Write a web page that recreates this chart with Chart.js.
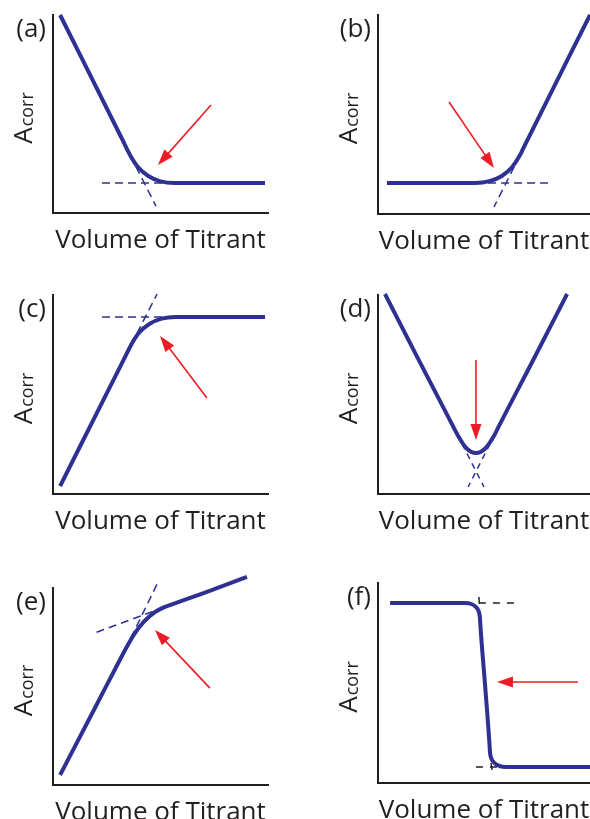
<!DOCTYPE html>
<html>
<head>
<meta charset="utf-8">
<script src="https://cdn.jsdelivr.net/npm/chart.js@4.4.0/dist/chart.umd.min.js"></script>
<style>
  body { margin: 0; background: #fff; }
  .panel { position: absolute; }
</style>
</head>
<body>
<canvas class="panel" id="chart-a" width="295" height="280" style="left:0;top:0"></canvas>
<canvas class="panel" id="chart-b" width="295" height="280" style="left:295px;top:0"></canvas>
<canvas class="panel" id="chart-c" width="295" height="280" style="left:0;top:280px"></canvas>
<canvas class="panel" id="chart-d" width="295" height="280" style="left:295px;top:280px"></canvas>
<canvas class="panel" id="chart-e" width="295" height="259" style="left:0;top:560px"></canvas>
<canvas class="panel" id="chart-f" width="295" height="259" style="left:295px;top:560px"></canvas>
<script>
// valeurs, axes 0..10 dans chaque panneau
const aCurve = [[0.33, 10.0], [3.12, 3.94], [3.44, 3.23], [3.58, 2.93], [3.96, 2.31], [4.43, 1.87], [5.00, 1.60], [5.67, 1.52], [5.91, 1.52], [9.86, 1.52]];
const aGuides = [[[2.28, 1.52], [5.67, 1.52]], [[3.58, 2.93], [4.79, 0.35]]];
const aArrow = [[7.35, 5.45], [4.88, 2.42]];

const bCurve = [[0.42, 1.56], [4.34, 1.56], [4.58, 1.56], [5.26, 1.65], [5.84, 1.91], [6.32, 2.35], [6.70, 2.96], [6.84, 3.27], [10.0, 10.0]];
const bGuides = [[[4.58, 1.56], [8.02, 1.56]], [[6.70, 2.96], [5.47, 0.35]]];
const bArrow = [[3.35, 5.63], [5.47, 2.31]];

const cCurve = [[0.33, 0.40], [2.65, 5.38], [3.49, 7.19], [3.63, 7.49], [4.00, 8.10], [4.48, 8.54], [5.05, 8.81], [5.72, 8.89], [5.95, 8.89], [9.86, 8.89]];
const cGuides = [[[2.28, 8.89], [5.72, 8.89]], [[3.63, 7.49], [4.84, 10.05]]];
const cArrow = [[7.16, 4.82], [4.98, 7.94]];

const dCurve = [[0.33, 10.05], [1.98, 6.61], [3.58, 3.32], [3.73, 3.02], [4.17, 2.30], [4.62, 2.06], [5.07, 2.30], [5.52, 3.02], [5.66, 3.32], [7.26, 6.61], [8.92, 10.05]];
const dGuides = [[[3.73, 3.02], [5.0, 0.35]], [[5.52, 3.02], [4.25, 0.35]]];
const dArrow = [[4.62, 6.73], [4.62, 2.71]];

const eCurve = [[0.33, 0.51], [1.95, 3.91], [3.21, 6.56], [3.35, 6.85], [3.78, 7.66], [4.23, 8.29], [4.71, 8.75], [5.21, 9.04], [5.44, 9.13], [7.07, 9.77], [9.02, 10.56]];
const eGuides = [[[3.35, 6.85], [4.84, 10.20]], [[5.21, 9.04], [1.95, 7.72]]];
const eArrow = [[7.30, 4.92], [4.74, 7.87]];

const fCurve = [[0.57, 9.0], [3.87, 9.0], [4.10, 9.0], [4.40, 8.95], [4.61, 8.81], [4.75, 8.58], [4.81, 8.25], [4.82, 8.05], [5.05, 4.9], [5.27, 1.75], [5.28, 1.55], [5.35, 1.22], [5.50, 0.99], [5.73, 0.85], [6.04, 0.8], [6.27, 0.8], [10.0, 0.8]];
const fGuides = [[[4.76, 9.0], [6.46, 9.0]], [[4.76, 9.3], [4.81, 8.55]], [[4.62, 0.8], [5.75, 0.8]], [[5.33, 1.0], [5.38, 0.65]]];
const fArrow = [[9.43, 5.05], [5.61, 5.05]];

const panelLabels = ['(a)', '(b)', '(c)', '(d)', '(e)', '(f)'];
const xTitle = 'Volume of Titrant';
const yTitle = ['A', 'corr'];

const BLUE = '#2e3192';
const RED = '#ed1c24';
const INK = '#231f20';
const FONT = '"Open Sans", sans-serif';

// textes et flèches rouges, placés via les échelles du graphique
const decorPlugin = {
    id: 'decor',
    afterDatasetsDraw(chart, args, opts) {
        const ctx = chart.ctx;
        const area = chart.chartArea;
        const sx = chart.scales.x, sy = chart.scales.y;

        const x0 = sx.getPixelForValue(opts.arrow[0][0]), y0 = sy.getPixelForValue(opts.arrow[0][1]);
        const x1 = sx.getPixelForValue(opts.arrow[1][0]), y1 = sy.getPixelForValue(opts.arrow[1][1]);
        const ang = Math.atan2(y1 - y0, x1 - x0);
        const c = Math.cos(ang), s = Math.sin(ang);
        ctx.save();
        ctx.strokeStyle = RED;
        ctx.fillStyle = RED;
        ctx.lineWidth = 1.6;
        ctx.beginPath();
        ctx.moveTo(x0, y0);
        ctx.lineTo(x1 - 12 * c, y1 - 12 * s);
        ctx.stroke();
        ctx.beginPath();
        ctx.moveTo(x1, y1);
        ctx.lineTo(x1 - 16 * c + 5.5 * s, y1 - 16 * s - 5.5 * c);
        ctx.lineTo(x1 - 16 * c - 5.5 * s, y1 - 16 * s + 5.5 * c);
        ctx.closePath();
        ctx.fill();

        ctx.fillStyle = INK;
        ctx.font = '26px ' + FONT;
        ctx.textBaseline = 'alphabetic';
        ctx.textAlign = 'right';
        ctx.fillText(opts.letter, area.left - 7, area.top + 22);

        ctx.textAlign = 'center';
        ctx.fillText(xTitle, (area.left + area.right) / 2, area.bottom + 35);

        // A_corr tourné
        ctx.textAlign = 'left';
        const wA = ctx.measureText(yTitle[0]).width;
        ctx.font = '18px ' + FONT;
        const wSub = ctx.measureText(yTitle[1]).width;
        const total = wA + 1 + wSub;
        const cy = (area.top + area.bottom) / 2 + 4;
        ctx.translate(area.left - 21, cy + total / 2);
        ctx.rotate(-Math.PI / 2);
        ctx.font = '26px ' + FONT;
        ctx.fillText(yTitle[0], 0, 0);
        ctx.font = '18px ' + FONT;
        ctx.fillText(yTitle[1], wA + 1, 1);
        ctx.restore();
    }
};

function toPoints(list) {
    return list.map(p => ({ x: p[0], y: p[1] }));
}

function createPanel(canvasId, box, curve, guides, guideColor, dash, arrow, letter) {
    const canvas = document.getElementById(canvasId);
    if (!canvas) return;
    const ctx = canvas.getContext('2d');

    const datasets = [{
        data: toPoints(curve),
        borderColor: BLUE,
        borderWidth: 4,
        borderCapStyle: 'butt',
        borderJoinStyle: 'round',
        cubicInterpolationMode: 'monotone',
        pointRadius: 0,
        clip: false
    }];
    guides.forEach(g => {
        datasets.push({
            data: toPoints(g),
            borderColor: guideColor,
            borderWidth: 1.5,
            borderDash: dash,
            pointRadius: 0,
            clip: false
        });
    });

    const axis = {
        type: 'linear',
        min: 0,
        max: 10,
        grid: { display: false, drawTicks: false },
        ticks: { display: false },
        border: { display: true, color: INK, width: 2 }
    };

    new Chart(ctx, {
        type: 'line',
        data: { datasets: datasets },
        options: {
            responsive: false,
            animation: false,
            events: [],
            layout: {
                padding: {
                    left: box[0],
                    top: box[1],
                    right: canvas.width - box[2],
                    bottom: canvas.height - box[3]
                }
            },
            scales: { x: axis, y: axis },
            plugins: {
                legend: { display: false },
                tooltip: { enabled: false },
                decor: { arrow: arrow, letter: letter }
            }
        },
        plugins: [decorPlugin]
    });
}

createPanel('chart-a', [53, 15, 268, 213], aCurve, aGuides, BLUE, [8, 5], aArrow, panelLabels[0]);
createPanel('chart-b', [83, 15, 295, 214], bCurve, bGuides, BLUE, [8, 5], bArrow, panelLabels[1]);
createPanel('chart-c', [53, 15, 268, 214], cCurve, cGuides, BLUE, [8, 5], cArrow, panelLabels[2]);
createPanel('chart-d', [83, 15, 295, 214], dCurve, dGuides, BLUE, [6, 5], dArrow, panelLabels[3]);
createPanel('chart-e', [53, 28, 268, 225], eCurve, eGuides, BLUE, [8, 5], eArrow, panelLabels[4]);
createPanel('chart-f', [83, 23, 295, 223], fCurve, fGuides, INK, [7, 7], fArrow, panelLabels[5]);
</script>
</body>
</html>
